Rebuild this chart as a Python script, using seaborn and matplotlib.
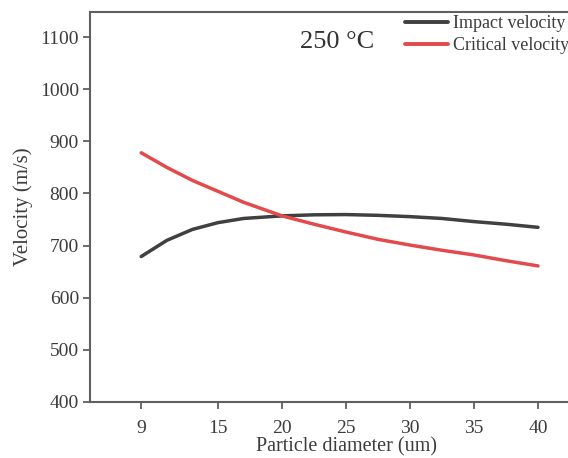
import matplotlib
matplotlib.use("Agg")
import matplotlib.pyplot as plt
import numpy as np
import pandas as pd
import seaborn as sns

# values
diameter = [9, 11, 13, 15, 17, 20, 22.5, 25, 27.5, 30, 32.5, 35, 37.5, 40]
impact_v = [679, 710, 731, 744, 752, 757, 759, 759.5, 758, 755.5, 752, 746, 741, 735]
critical_v = [878, 850, 825, 804, 783, 757, 741, 726, 712, 701, 691, 682, 671, 661]
x_ticks = [9, 15, 20, 25, 30, 35, 40]
y_ticks = [400, 500, 600, 700, 800, 900, 1000, 1100]

df = pd.concat([
    pd.DataFrame({"d": diameter, "v": impact_v, "kind": "Impact velocity"}),
    pd.DataFrame({"d": diameter, "v": critical_v, "kind": "Critical velocity"}),
])

sns.set_theme(style="ticks")
plt.rcParams["font.family"] = ["Liberation Serif", "DejaVu Serif"]

fig = plt.figure(figsize=(5.68, 4.58), dpi=100)
ax = fig.add_axes([90 / 568, 56 / 458, 512 / 568, 390 / 458])

palette = {"Impact velocity": "#404040", "Critical velocity": "#e24a4c"}
sns.lineplot(data=df, x="d", y="v", hue="kind", palette=palette,
             linewidth=2.5, ax=ax, legend=False)

ax.set_xlim(5, 45)
ax.set_ylim(400, 1148)
ax.set_xticks(x_ticks)
ax.set_yticks(y_ticks)

txt = "#3c3c3c"
for s in ax.spines.values():
    s.set_color("#606060")
    s.set_linewidth(1.5)
ax.tick_params(direction="out", length=5, width=1.3, color="#606060",
               labelsize=14, labelcolor=txt)
ax.tick_params(axis="x", pad=8)
ax.tick_params(axis="y", pad=3)
ax.set_xlabel("Particle diameter (um)", fontsize=14.5, color=txt, labelpad=0)
ax.set_ylabel("Velocity (m/s)", fontsize=15, color=txt, labelpad=5)

ax.text(337 / 568, 1 - 42 / 458, "250 °C", transform=fig.transFigure,
        ha="center", va="center", fontsize=19, color="#333333")

handles = [plt.Line2D([], [], color=palette[k], lw=2.8) for k in palette]
ax.legend(handles, list(palette), loc="upper left",
          bbox_to_anchor=(405 / 568, 1 - 15 / 458), bbox_transform=fig.transFigure,
          frameon=False, fontsize=13, handlelength=2.4, handletextpad=0.25,
          labelspacing=0.3, borderpad=0, borderaxespad=0, labelcolor=txt)

fig.savefig("out.png", dpi=100)
